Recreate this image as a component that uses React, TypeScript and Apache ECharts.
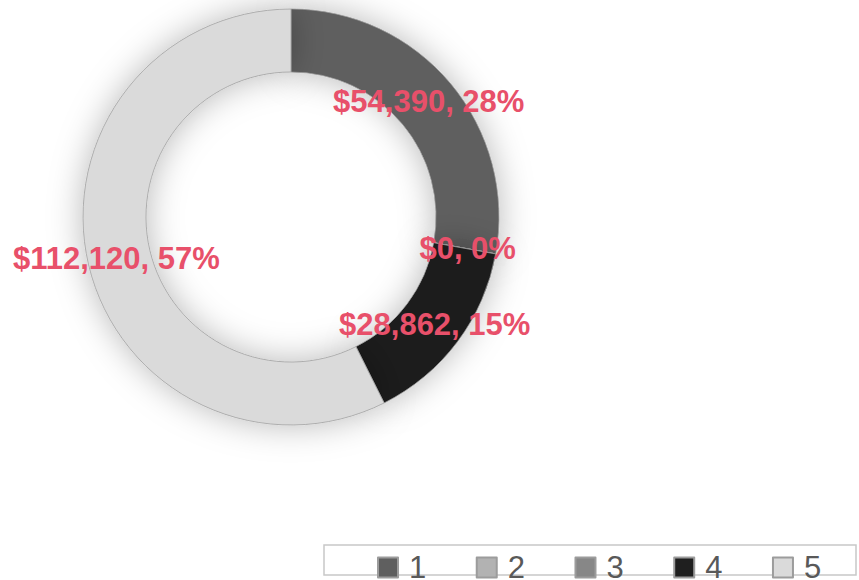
import React, { useEffect, useRef } from "react";
import * as echarts from "echarts";

const categories = ["1", "2", "3", "4", "5"];
const values = [54390, 0, 0, 28862, 112120];
const colors = ["#5f5f5f", "#b2b2b2", "#878787", "#1f1f1f", "#dadada"];

const total = values.reduce((a, b) => a + b, 0);

export default function App() {
  const ref = useRef<HTMLDivElement>(null);
  useEffect(() => {
    document.body.style.margin = "0";
    const chart = echarts.init(ref.current!, null, { renderer: "svg" });
    chart.setOption({
      animation: false,
      backgroundColor: "#ffffff",
      color: colors,
      legend: {
        left: 377,
        top: 552,
        padding: 0,
        icon: "rect",
        itemWidth: 20,
        itemHeight: 20,
        itemGap: 49.5,
        data: categories,
        textStyle: {
          fontFamily: "Liberation Sans",
          fontSize: 31,
          color: "#595959",
          padding: [0, 0, 0, 6],
        },
      },
      graphic: [
        {
          type: "rect",
          shape: { x: 324, y: 545, width: 532, height: 30 },
          style: { fill: "none", stroke: "#c8c8c8", lineWidth: 1.5 },
          z: -1,
        },
      ],
      series: [
        {
          type: "pie",
          center: [291, 217],
          radius: [145, 208],
          startAngle: 90,
          clockwise: true,
          avoidLabelOverlap: false,
          minShowLabelAngle: 0,
          itemStyle: {
            borderColor: "#9c9c9c",
            borderWidth: 0.75,
            shadowBlur: 34,
            shadowColor: "rgba(0,0,0,0.28)",
          },
          label: {
            show: true,
            position: "inside",
            fontFamily: "Liberation Sans",
            fontWeight: "bold",
            fontSize: 31,
            color: "#e8506a",
            formatter: (p: any) =>
              "$" +
              values[p.dataIndex].toLocaleString("en-US") +
              ", " +
              Math.round((values[p.dataIndex] / total) * 100) +
              "%",
          },
          labelLine: { show: false },
          emphasis: { disabled: true },
          data: categories.map((c, i) => ({ name: c, value: values[i] })),
        },
      ],
    });
    return () => chart.dispose();
  }, []);
  return (
    <div
      ref={ref}
      style={{ position: "absolute", left: 0, top: 0, width: 859, height: 580 }}
    />
  );
}
